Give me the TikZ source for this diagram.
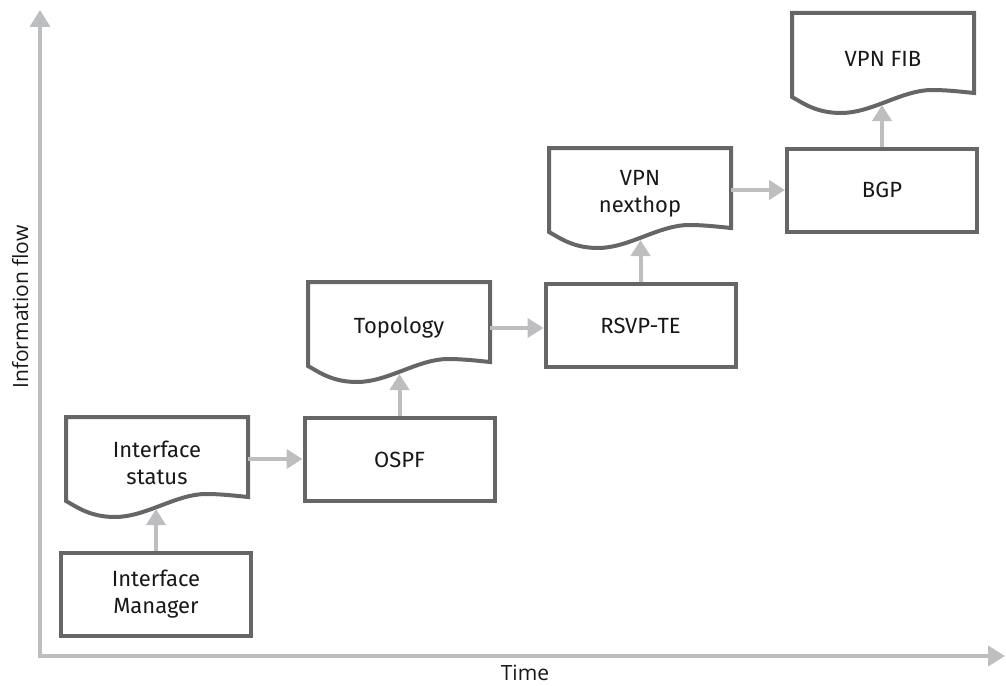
\documentclass[tikz,border=0pt]{standalone}
\usepackage{fontspec}
\setmainfont{Fira Sans}
\newfontfamily\labelfont{Open Sans}
\usetikzlibrary{arrows.meta,calc}
\pgfdeclarelayer{background}
\pgfsetlayers{background,main}
\definecolor{boxgray}{HTML}{666666}
\definecolor{arrgray}{HTML}{BDBEC0}
\definecolor{txtgray}{HTML}{1A1718}
\tikzset{
  procbox/.style={draw=boxgray, line width=4pt, fill=white, minimum width=190pt, minimum height=83pt,
    inner sep=0pt, align=center, text=txtgray, font=\fontsize{22}{27}\selectfont},
  docbox/.style={minimum width=182pt, minimum height=84pt, inner sep=0pt, outer sep=0pt,
    align=center, text=txtgray, font=\fontsize{22}{27}\selectfont},
  docline/.style={draw=boxgray, line width=4pt, line join=miter, fill=white},
  flow/.style={draw=arrgray, line width=4pt, -{Triangle[length=16pt,width=19pt]}},
  axislabel/.style={text=txtgray, font=\labelfont\fontsize{21}{24}\selectfont, inner sep=0pt}
}
% outline of a document node whose text sits 4pt below the middle of its body
\newcommand{\docoutline}[1]{%
  \begin{pgfonlayer}{background}
  \draw[docline] ([yshift=4pt]#1.north west) -- ([yshift=4pt]#1.north east) -- ([yshift=8pt]#1.south east)
   .. controls ([xshift=-19pt,yshift=10pt]#1.south east) and ([xshift=-30pt,yshift=11pt]#1.south east) .. ([xshift=140pt,yshift=11pt]#1.south west)
   .. controls ([xshift=110pt,yshift=11pt]#1.south west) and ([xshift=80pt,yshift=-12pt]#1.south west) .. ([xshift=49pt,yshift=-12pt]#1.south west)
   .. controls ([xshift=24pt,yshift=-12pt]#1.south west) and ([xshift=11pt,yshift=-2pt]#1.south west) .. ([yshift=4pt]#1.south west) -- cycle;
  \end{pgfonlayer}}
\begin{document}
\begin{tikzpicture}[x=1pt,y=-1pt]
\useasboundingbox (0,0) rectangle (1006,685);
% axes
\coordinate (ytip) at (40,10);
\coordinate (xtip) at (1005,656);
\draw[draw=arrgray, line width=4pt, {Triangle[length=17pt,width=20pt]}-{Triangle[length=17pt,width=20pt]}] (ytip) |- (xtip);
\node[axislabel, rotate=90, anchor=base] (ylab) at (28,307) {Information flow};
\node[axislabel, anchor=base] (xlab) at (525,680) {Time};
% documents
\node[docbox] (is) at (157,463) {Interface\\status};
\node[docbox] (topo) at (399,328) {Topology};
\node[docbox] (nh) at (640,194) {VPN\\nexthop};
\node[docbox] (fib) at (883,59) {VPN FIB};
\docoutline{is}
\docoutline{topo}
\docoutline{nh}
\docoutline{fib}
% process boxes
\node[procbox] (im) at (156,594.5) {Interface\\Manager};
\node[procbox] (ospf) at (399.5,459.5) {OSPF};
\node[procbox] (rsvp) at (640.5,325.5) {RSVP-TE};
\node[procbox] (bgp) at (882,190) {BGP};
% arrow targets on the waves
\coordinate (is-in) at ([yshift=-4pt]is.south);
\coordinate (topo-in) at ([yshift=-4pt]topo.south);
\coordinate (nh-in) at ([yshift=-4pt]nh.south);
\coordinate (fib-in) at ([yshift=-4pt]fib.south);
% connectors
\draw[flow] (im.north) -- (im.north |- is-in);
\draw[flow] ([yshift=4pt]is.east) -- ([yshift=4pt]is.east -| ospf.west);
\draw[flow] (ospf.north) -- (ospf.north |- topo-in);
\draw[flow] (topo.east) -- (topo.east -| rsvp.west);
\draw[flow] (rsvp.north) -- (rsvp.north |- nh-in);
\draw[flow] ([yshift=4pt]nh.east) -- ([yshift=4pt]nh.east -| bgp.west);
\draw[flow] (bgp.north) -- (bgp.north |- fib-in);
\end{tikzpicture}
\end{document}
